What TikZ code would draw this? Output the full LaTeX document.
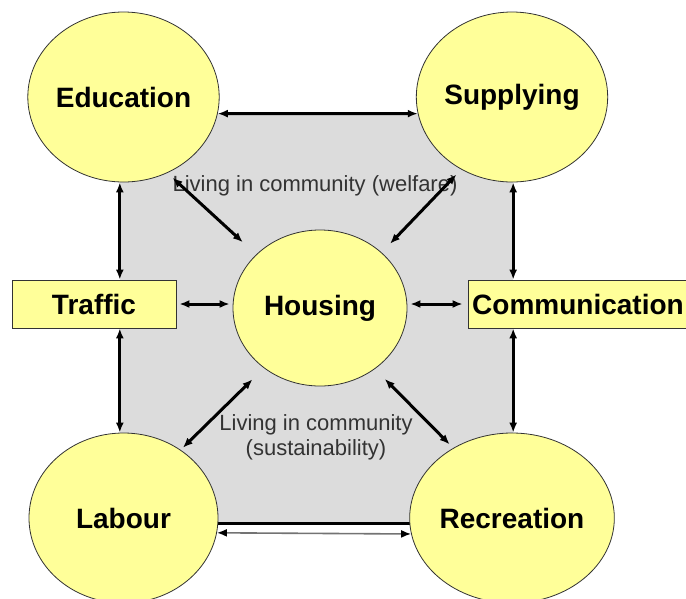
\documentclass[tikz,border=0pt]{standalone}
\usepackage{fontspec}
\setmainfont{Liberation Sans}
\usetikzlibrary{positioning, arrows.meta, shapes.geometric}

\definecolor{paleyellow}{HTML}{FFFF99}
\definecolor{boxgray}{HTML}{DCDCDC}
\definecolor{notegray}{HTML}{333333}

\begin{document}
\begin{tikzpicture}[
    % GLOBAL CFG
    x=1pt, y=-1pt,
    >={Latex[length=10pt,width=8pt]},
    % Styles
    area/.style={% For the big ellipses
        ellipse,
        draw=black!80,
        fill=paleyellow,
        line width=0.8pt,
        inner sep=0pt,
        font=\fontsize{28}{32}\selectfont\bfseries,
        },
    side/.style={% For the two side boxes
        rectangle,
        draw=black!80,
        fill=paleyellow,
        line width=0.8pt,
        minimum height=48pt,
        inner sep=0pt,
        font=\fontsize{28}{32}\selectfont\bfseries,
        },
    note/.style={% For the grey texts
        text=notegray,
        align=center,
        font=\fontsize{22}{25}\selectfont,
        },
    ArrowB/.style={% Thick double arrows
        <->,
        line width=3pt,
        },
    ArrowS/.style={% Thin grey double arrow
        {Latex[length=10pt,width=8pt,black]}-{Latex[length=10pt,width=8pt,black]},
        line width=1.6pt,
        draw=black!55,
        },
    ]

    \useasboundingbox (0,0) rectangle (686,598);
    \clip (0,0) rectangle (686,598);

    % Draw the grey field
    \node [fill=boxgray, minimum width=393pt, minimum height=410pt, inner sep=0pt] (life) at (316.5,318) {};
    \draw [line width=3pt] (life.south west) -- (life.south east);

    % Draw the areas
    \node [area, minimum width=189pt, minimum height=170pt] (edu) at (123.5,97) {Education};
    \node [area, minimum width=188pt, minimum height=170pt] (sup) at (512,97) {Supplying};
    \node [area, minimum width=189pt, minimum height=170pt] (lab) at (123.5,518) {Labour};
    \node [area, minimum width=188pt, minimum height=170pt] (rec) at (512,518) {Recreation};
    \node [area, minimum width=174pt, minimum height=156pt] (hous) at (320,308) {Housing};

    % Draw the side boxes
    \node [side, minimum width=164pt] (traffic) at (94,304) {Traffic};
    \node [side, minimum width=220pt] (comm) at (578,304) {Communication};

    % Texts
    \node [note] (welfare) at (315,186) {Living in community (welfare)};
    \node [note] (sustain) at (316,437) {Living in community\\(sustainability)};

% Start connecting all.
    % Outer ring
    \draw [ArrowB] (edu.-10) -- (sup.190);
    \draw [ArrowB] (edu.south -| life.west) -- (traffic.north -| life.west);
    \draw [ArrowB] (traffic.south -| life.west) -- (lab.north -| life.west);
    \draw [ArrowB] (sup.south -| life.east) -- (comm.north -| life.east);
    \draw [ArrowB] (comm.south -| life.east) -- (rec.north -| life.east);
    \draw [ArrowS] (lab.-9) -- (rec.189);

    % To the housing
    \draw [ArrowB, shorten <=7pt, shorten >=18pt] (edu.-60) -- (hous.140);
    \draw [ArrowB, shorten <=7pt, shorten >=12pt] (sup.-125) -- (hous.42);
    \draw [ArrowB, shorten <=3pt, shorten >=16pt] (lab.50) -- (hous.-133);
    \draw [ArrowB, shorten <=5pt, shorten >=14pt] (rec.130) -- (hous.-48);
    \draw [ArrowB, shorten <=3pt, shorten >=3pt] (traffic.east) -- (traffic.east -| hous.west);
    \draw [ArrowB, shorten <=3pt, shorten >=5pt] (comm.west -| hous.east) -- (comm.west);

\end{tikzpicture}
\end{document}
